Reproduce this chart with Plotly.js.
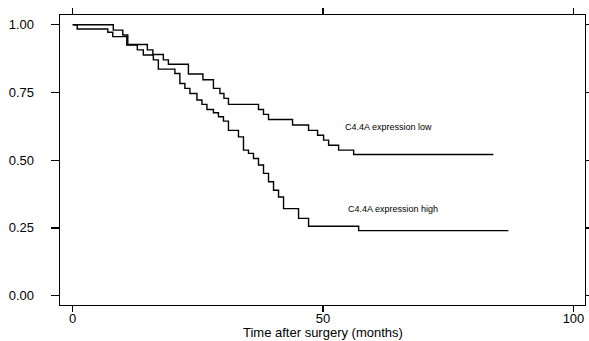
<!DOCTYPE html>
<html>
<head>
<meta charset="utf-8">
<script src="https://cdn.plot.ly/plotly-3.0.1.min.js"></script>
<style>html,body{margin:0;padding:0;background:#fff;}#chart{width:589px;height:341px;}</style>
</head>
<body>
<div id="chart"></div>
<script>
// C4.4A expression low
var lowTime = [0, 8.1, 10.0, 11.0, 14.9, 16.0, 18.1, 19.1, 23.1, 26.0, 28.1, 29.4, 30.2, 31.1, 37.1, 38.1, 39.1, 43.9, 47.1, 48.9, 50.1, 51.1, 53.1, 56.1, 84.0];
var lowSurv = [1.0, 0.980, 0.962, 0.927, 0.907, 0.890, 0.870, 0.854, 0.818, 0.797, 0.765, 0.746, 0.728, 0.706, 0.687, 0.669, 0.650, 0.630, 0.610, 0.592, 0.574, 0.555, 0.537, 0.521, 0.521];
// C4.4A expression high
var highTime = [0, 0.9, 7.0, 8.0, 10.8, 12.9, 14.1, 16.1, 17.1, 20.4, 21.4, 22.4, 23.4, 24.8, 25.8, 26.8, 28.1, 29.1, 30.1, 31.1, 33.1, 34.1, 35.1, 36.1, 37.1, 38.1, 39.1, 40.1, 41.1, 42.1, 45.1, 47.1, 57.1, 87.0];
var highSurv = [1.0, 0.984, 0.972, 0.956, 0.925, 0.907, 0.888, 0.870, 0.836, 0.820, 0.783, 0.765, 0.746, 0.722, 0.706, 0.687, 0.675, 0.660, 0.644, 0.610, 0.586, 0.537, 0.525, 0.506, 0.482, 0.451, 0.420, 0.389, 0.364, 0.321, 0.285, 0.256, 0.240, 0.240];

var xTicks = [0, 50, 100];
var yTicks = [0, 0.25, 0.5, 0.75, 1.0];
var yTickText = ["0.00", "0.25", "0.50", "0.75", "1.00"];
var labels = ["C4.4A expression low", "C4.4A expression high"];
var labelX = [54.0, 54.6];
var labelY = [0.622, 0.319];
var xTitle = "Time after surgery (months)";

var font = "Arial, 'Liberation Sans', sans-serif";
var traces = [
  {x: lowTime, y: lowSurv, type: "scatter", mode: "lines", line: {shape: "hv", color: "#000", width: 1.4}, hoverinfo: "skip"},
  {x: highTime, y: highSurv, type: "scatter", mode: "lines", line: {shape: "hv", color: "#000", width: 1.4}, hoverinfo: "skip"}
];

var annots = labels.map(function(t, i){
  return {x: labelX[i], y: labelY[i], xref: "x", yref: "y", text: t, showarrow: false,
          xanchor: "left", yanchor: "middle", font: {family: font, size: 9, color: "#000"}};
});
annots.push({x: 0.5, y: -0.094, xref: "paper", yref: "paper", text: xTitle, showarrow: false,
             xanchor: "center", yanchor: "middle", font: {family: font, size: 13, color: "#000"}});

var layout = {
  width: 589, height: 341,
  margin: {l: 60, r: 4, t: 15, b: 36, pad: 0},
  paper_bgcolor: "#fff", plot_bgcolor: "#fff",
  showlegend: false,
  font: {family: font, size: 13, color: "#000"},
  xaxis: {
    range: [-2.54, 102.3], tickvals: xTicks, ticktext: xTicks.map(String),
    ticks: "outside", ticklen: 6, tickwidth: 1.3, tickcolor: "#000",
    showline: true, linecolor: "#000", linewidth: 1.4, mirror: "ticks",
    showgrid: false, zeroline: false, ticklabelstandoff: -5,
    tickfont: {family: font, size: 13, color: "#000"}
  },
  yaxis: {
    range: [-0.0347, 1.0358], tickvals: yTicks, ticktext: yTickText,
    ticks: "outside", ticklen: 8, tickwidth: 1.3, tickcolor: "#000",
    showline: true, linecolor: "#000", linewidth: 1.4, mirror: "ticks",
    showgrid: false, zeroline: false, ticklabelstandoff: 14,
    tickfont: {family: font, size: 13, color: "#000"}
  },
  annotations: annots
};

Plotly.newPlot("chart", traces, layout, {staticPlot: true, displayModeBar: false});
</script>
</body>
</html>
